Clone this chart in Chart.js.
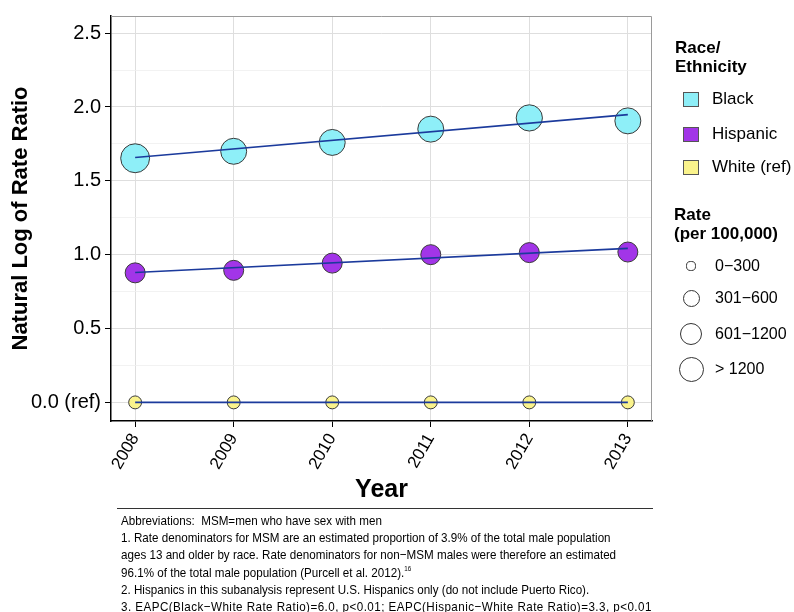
<!DOCTYPE html>
<html>
<head>
<meta charset="utf-8">
<script src="https://cdn.jsdelivr.net/npm/chart.js@4.4.0/dist/chart.umd.min.js"></script>
<style>
  html, body { margin: 0; padding: 0; background: #fff; }
  body { width: 794px; height: 612px; position: relative; overflow: hidden; font-family: "Liberation Sans", Arial, sans-serif; color: #000; }
  #chart { position: absolute; left: 0; top: 0; }
  .lg-title { position: absolute; font-weight: bold; font-size: 17px; line-height: 19px; }
  .lg-row { position: absolute; font-size: 17px; line-height: 20px; height: 20px; }
  .sq { position: absolute; width: 14px; height: 13px; border: 1px solid #555; }
  .circ { position: absolute; border: 1.2px solid #333; border-radius: 50%; background: #fff; box-sizing: border-box; }
  #hr { position: absolute; left: 117px; top: 508px; width: 536px; height: 0; border-top: 1px solid #333; }
  #notes { position: absolute; left: 121px; top: 512px; font-size: 13px; line-height: 17.2px; white-space: nowrap; transform: scaleX(0.895); transform-origin: 0 0; }
  #notes .wide { letter-spacing: 0.5px; }
  sup { font-size: 7px; vertical-align: 6px; line-height: 0; }
</style>
</head>
<body>
<canvas id="chart" width="794" height="510"></canvas>
<div id="legend"></div>
<div id="hr"></div>
<div id="notes">
  Abbreviations:&nbsp; MSM=men who have sex with men<br>
  1. Rate denominators for MSM are an estimated proportion of 3.9% of the total male population<br>
  ages 13 and older by race. Rate denominators for non−MSM males were therefore an estimated<br>
  96.1% of the total male population (Purcell et al. 2012).<sup>16</sup><br>
  2. Hispanics in this subanalysis represent U.S. Hispanics only (do not include Puerto Rico).<br>
  <span class="wide">3. EAPC(Black−White Rate Ratio)=6.0, p&lt;0.01; EAPC(Hispanic−White Rate Ratio)=3.3, p&lt;0.01</span>
</div>
<script>
// data
var years = [2008, 2009, 2010, 2011, 2012, 2013];
var blackLogRR = [1.653, 1.70, 1.76, 1.85, 1.926, 1.906];
var hispanicLogRR = [0.877, 0.894, 0.943, 1.00, 1.014, 1.018];
var whiteLogRR = [0, 0, 0, 0, 0, 0];

// rate per 100,000
var blackRate = [1800, 1450, 1450, 1450, 1480, 1450];
var hispanicRate = [860, 860, 860, 860, 860, 860];
var whiteRate = [360, 360, 360, 360, 360, 360];

// fitted trend lines, 2008 -> 2013
var fitYears = [2008, 2013];
var blackFit = [1.658, 1.948];
var hispanicFit = [0.879, 1.043];
var whiteFit = [0, 0];

var yTicks = [0, 0.5, 1.0, 1.5, 2.0, 2.5];
var yTickLabels = ['0.0 (ref)', '0.5', '1.0', '1.5', '2.0', '2.5'];
var yMinorTicks = [0.25, 0.75, 1.25, 1.75, 2.25];

var groups = ['Black', 'Hispanic', 'White (ref)'];
var rateLabels = ['0\u2212300', '301\u2212600', '601\u22121200', '> 1200'];

// styles
var FONT = '"Liberation Sans", Arial, sans-serif';
var fills = ['#8EEFF8', '#A235E8', '#FAF38C'];
var lineColor = '#1b3a9c';
var rateKeyRadius = [4.6, 8.5, 11, 12.5];

function radius(rate) { return 0.341 * Math.sqrt(rate); }

function pts(ys) {
    return years.map(function (y, i) { return { x: y, y: ys[i] }; });
}
function fitPts(ys) {
    return fitYears.map(function (y, i) { return { x: y, y: ys[i] }; });
}

function pointSet(label, ys, rates, fill) {
    return {
        type: 'scatter',
        label: label,
        data: pts(ys),
        backgroundColor: fill,
        borderColor: '#3a3a3a',
        borderWidth: 1,
        pointRadius: rates.map(radius),
        pointHoverRadius: rates.map(radius),
        order: 2
    };
}
function fitSet(ys) {
    return {
        type: 'line',
        data: fitPts(ys),
        borderColor: lineColor,
        borderWidth: 1.6,
        pointRadius: 0,
        fill: false,
        order: 1
    };
}

var isMajor = function (v) { return yTicks.some(function (t) { return Math.abs(t - v) < 1e-6; }); };

var panelBorder = {
    id: 'panelBorder',
    beforeDatasetsDraw: function (chart) {
        var a = chart.chartArea, c = chart.ctx;
        c.save();
        c.strokeStyle = '#9a9a9a';
        c.lineWidth = 1;
        c.beginPath();
        c.moveTo(a.left, a.top + 0.5);
        c.lineTo(a.right - 0.5, a.top + 0.5);
        c.lineTo(a.right - 0.5, a.bottom);
        c.stroke();
        c.restore();
    }
};

new Chart(document.getElementById('chart').getContext('2d'), {
    data: {
        datasets: [
            pointSet(groups[0], blackLogRR, blackRate, fills[0]),
            pointSet(groups[1], hispanicLogRR, hispanicRate, fills[1]),
            pointSet(groups[2], whiteLogRR, whiteRate, fills[2]),
            fitSet(blackFit),
            fitSet(hispanicFit),
            fitSet(whiteFit)
        ]
    },
    options: {
        responsive: false,
        animation: false,
        layout: { padding: { top: 7, right: 142, left: 0, bottom: 0 } },
        plugins: { legend: { display: false }, tooltip: { enabled: false } },
        scales: {
            x: {
                type: 'linear',
                min: 2007.755,
                max: 2013.245,
                afterBuildTicks: function (s) { s.ticks = years.map(function (v) { return { value: v }; }); },
                afterFit: function (s) { s.height = 89; },
                ticks: {
                    callback: function (v) { return String(v); },
                    minRotation: 60,
                    maxRotation: 60,
                    padding: 3,
                    color: '#000',
                    font: { family: FONT, size: 17 }
                },
                grid: { color: '#dedede', lineWidth: 1, tickLength: 6, tickColor: '#000' },
                border: { display: true, color: '#000', width: 1.5 },
                title: {
                    display: true,
                    text: 'Year',
                    color: '#000',
                    font: { family: FONT, size: 25, weight: 'bold' },
                    padding: { top: 0, bottom: 5 }
                }
            },
            y: {
                type: 'linear',
                min: -0.126,
                max: 2.616,
                afterBuildTicks: function (s) {
                    s.ticks = yTicks.concat(yMinorTicks).sort(function (a, b) { return a - b; })
                        .map(function (v) { return { value: v }; });
                },
                afterFit: function (s) { s.width = 111; },
                ticks: {
                    callback: function (v) {
                        var i = yTicks.findIndex(function (t) { return Math.abs(t - v) < 1e-6; });
                        return i >= 0 ? yTickLabels[i] : '';
                    },
                    padding: 4,
                    color: '#000',
                    font: { family: FONT, size: 20 }
                },
                grid: {
                    color: function (ctx) { return ctx.tick && isMajor(ctx.tick.value) ? '#dedede' : '#efefef'; },
                    lineWidth: function (ctx) { return ctx.tick && isMajor(ctx.tick.value) ? 1 : 0.8; },
                    tickLength: 6,
                    tickColor: function (ctx) { return ctx.tick && isMajor(ctx.tick.value) ? '#000' : 'rgba(0,0,0,0)'; }
                },
                border: { display: true, color: '#000', width: 1.5 },
                title: {
                    display: true,
                    text: 'Natural Log of Rate Ratio',
                    color: '#000',
                    font: { family: FONT, size: 22, weight: 'bold' },
                    padding: { top: 8, bottom: 0 }
                }
            }
        }
    },
    plugins: [panelBorder]
});

// legends
var lg = document.getElementById('legend');
function add(cls, css, html) {
    var d = document.createElement('div');
    d.className = cls;
    d.style.cssText = css;
    if (html) d.innerHTML = html;
    lg.appendChild(d);
}
add('lg-title', 'left:675px;top:38px;', 'Race/<br>Ethnicity');
var keyY = [99, 134, 167];
groups.forEach(function (g, i) {
    add('sq', 'left:683px;top:' + (keyY[i] - 7) + 'px;background:' + fills[i] + ';');
    add('lg-row', 'left:712px;top:' + (keyY[i] - 10) + 'px;', g);
});
add('lg-title', 'left:674px;top:205px;', 'Rate<br>(per 100,000)');
var rateY = [266, 298, 334, 369];
rateLabels.forEach(function (t, i) {
    var r = rateKeyRadius[i];
    add('circ', 'left:' + (691 - r) + 'px;top:' + (rateY[i] - r) + 'px;width:' + (2 * r) + 'px;height:' + (2 * r) + 'px;');
    add('lg-row', 'left:715px;top:' + (rateY[i] - 10) + 'px;font-size:16px;', t);
});
</script>
</body>
</html>
